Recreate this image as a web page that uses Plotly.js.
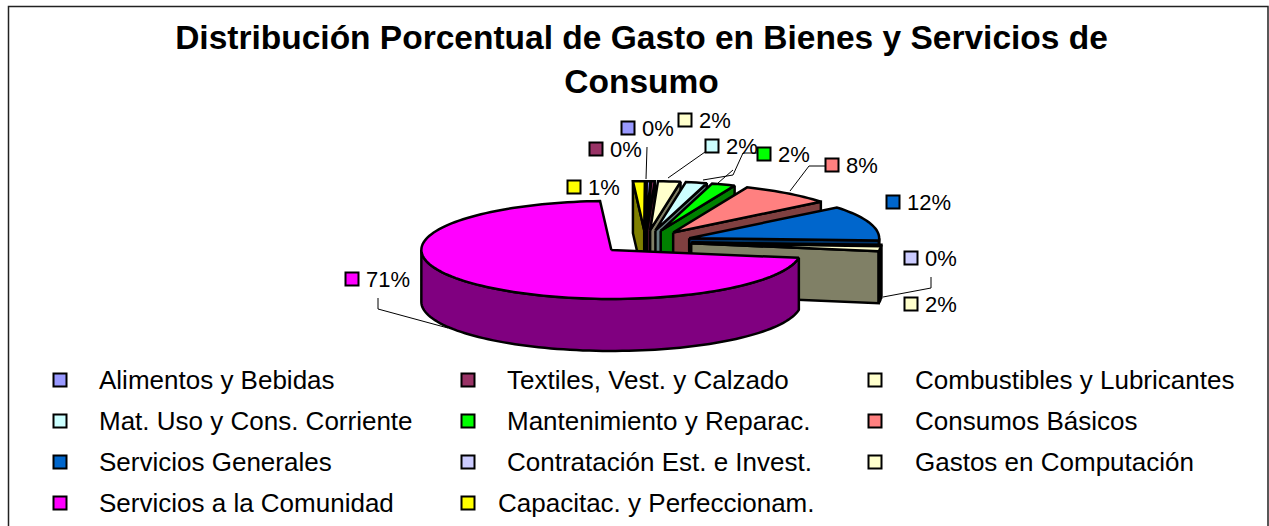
<!DOCTYPE html>
<html><head><meta charset="utf-8">
<script src="https://cdn.plot.ly/plotly-3.0.1.min.js"></script>
<style>html,body{margin:0;padding:0;background:#fff}</style></head>
<body><div id="chart" style="width:1269px;height:526px"></div>
<script>
// Data
const categories = ["Alimentos y Bebidas","Textiles, Vest. y Calzado","Combustibles y Lubricantes","Mat. Uso y Cons. Corriente","Mantenimiento y Reparac.","Consumos Básicos","Servicios Generales","Contratación Est. e Invest.","Gastos en Computación","Servicios a la Comunidad","Capacitac. y Perfeccionam."];
const values = [0.3,0.3,1.9,1.8,2.0,7.8,11.5,0.3,1.6,71.4,1.0];
const topColors = ["#9999ff","#993366","#ffffcc","#ccffff","#00ff00","#ff8080","#0066cc","#ccccff","#ffffcc","#ff00ff","#ffff00"];
const wallColors = ["#4d4d80","#4d1a33","#808066","#668080","#008000","#804040","#003366","#666680","#808066","#800080","#808000"];
const drawOrder = [10,0,1,2,3,4,5,6,7,8,9];

// Layout constants (pixels)
const W=1269,H=526,CX=645.5,CY=242,RX=190,RY=49,DEPTH=52,EXPLODE=46,START=-89.8;
const legendCols=[60,468,875], legendTextCols=[96.5,504.5,913], legendRows=[380,421,462,503];
const labelSwatch=[[628,128],[596,149],[685,120],[712,146],[764,154],[832,165],[893,202],[911,258],[911,304],[352,279],[574,187]];
const leaders=[[[378,298],[378,309],[448,328]],[[647,147],[646,179]],[[705,152],[668,178]],
 [[757,153],[743,153],[733,175],[703,180]],[[733,170],[718,183]],[[825,166],[809,166],[790,191]],
 [[931,277],[931,288],[883,297]]];

const rad=d=>d*Math.PI/180;
const total=values.reduce((a,b)=>a+b,0);
let traces=[];
function poly(pts,fill){
  traces.push({type:'scatter',mode:'lines',x:pts.map(p=>p[0]),y:pts.map(p=>p[1]),fill:'toself',fillcolor:fill,
    line:{color:'#000',width:2.5,simplify:false},hoverinfo:'skip',showlegend:false});
}
function arc(ax,ay,t1,t2,dy){
  const out=[],n=Math.max(2,Math.ceil(Math.abs(t2-t1)/2));
  for(let i=0;i<=n;i++){const t=rad(t1+(t2-t1)*i/n);out.push([ax+RX*Math.cos(t),ay+RY*Math.sin(t)+dy]);}
  return out;
}
const spans=[];let ang=START;
values.forEach((v,i)=>{spans[i]=[ang,ang+v/total*360];ang+=v/total*360;});
drawOrder.forEach(i=>{
  const t1=spans[i][0],t2=spans[i][1];
  const mid=rad((t1+t2)/2);
  const ax=CX+EXPLODE*Math.cos(mid), ay=CY+EXPLODE*RY/RX*Math.sin(mid);
  const rim=t=>[ax+RX*Math.cos(rad(t)),ay+RY*Math.sin(rad(t))];
  const radial=t=>{const r=rim(t);poly([[ax,ay],r,[r[0],r[1]+DEPTH],[ax,ay+DEPTH],[ax,ay]],wallColors[i]);};
  if(Math.cos(rad(t2))>0) radial(t2);
  if(Math.cos(rad(t1))<0) radial(t1);
  const a=Math.max(t1,0), b=Math.min(t2,180);
  if(b>a){ const up=arc(ax,ay,a,b,0), dn=arc(ax,ay,b,a,DEPTH); poly(up.concat(dn,[up[0]]),wallColors[i]); }
  const top=arc(ax,ay,t1,t2,0);
  poly([[ax,ay]].concat(top,[[ax,ay]]),topColors[i]);
});
leaders.forEach(l=>traces.push({type:'scatter',mode:'lines',x:l.map(p=>p[0]),y:l.map(p=>p[1]),line:{color:'#000',width:1},hoverinfo:'skip',showlegend:false}));

const lx=[],ly=[],lc=[];
categories.forEach((c,i)=>{lx.push(legendCols[i%3]);ly.push(legendRows[Math.floor(i/3)]);lc.push(topColors[i]);});
labelSwatch.forEach((p,i)=>{lx.push(p[0]);ly.push(p[1]);lc.push(topColors[i]);});
traces.push({type:'scatter',mode:'markers',x:lx,y:ly,marker:{symbol:'square',size:13,color:lc,line:{color:'#000',width:2}},hoverinfo:'skip',showlegend:false});

const font='"Liberation Sans",Arial,sans-serif';
const ann=[];
categories.forEach((c,i)=>{
  const tx=(i===10)?496:legendTextCols[i%3];
  ann.push({x:tx,y:legendRows[Math.floor(i/3)],xref:'x',yref:'y',text:c,showarrow:false,xanchor:'left',yanchor:'middle',font:{family:font,size:26,color:'#000'}});
});
values.forEach((v,i)=>{
  ann.push({x:labelSwatch[i][0]+12,y:labelSwatch[i][1],xref:'x',yref:'y',text:Math.round(v/total*100)+'%',showarrow:false,xanchor:'left',yanchor:'middle',font:{family:font,size:22,color:'#000'}});
});
const layout={width:W,height:H,margin:{l:0,r:0,t:0,b:0},paper_bgcolor:'#fff',plot_bgcolor:'#fff',showlegend:false,
  title:{text:'Distribución Porcentual de Gasto en Bienes y Servicios de<br>Consumo',x:641.5/W,xanchor:'center',y:1-49/H,yanchor:'top',font:{family:font,size:33.5,color:'#000',weight:'bold'}},
  xaxis:{range:[0,W],visible:false,fixedrange:true},yaxis:{range:[H,0],visible:false,fixedrange:true},
  annotations:ann,
  shapes:[{type:'path',xref:'x',yref:'y',path:`M8.5,${H+5} L8.5,6.5 L1268,6.5 L1268,${H+5}`,line:{color:'#222',width:1.5}}]};
Plotly.newPlot('chart',traces,layout,{displayModeBar:false,responsive:false});
</script></body></html>
